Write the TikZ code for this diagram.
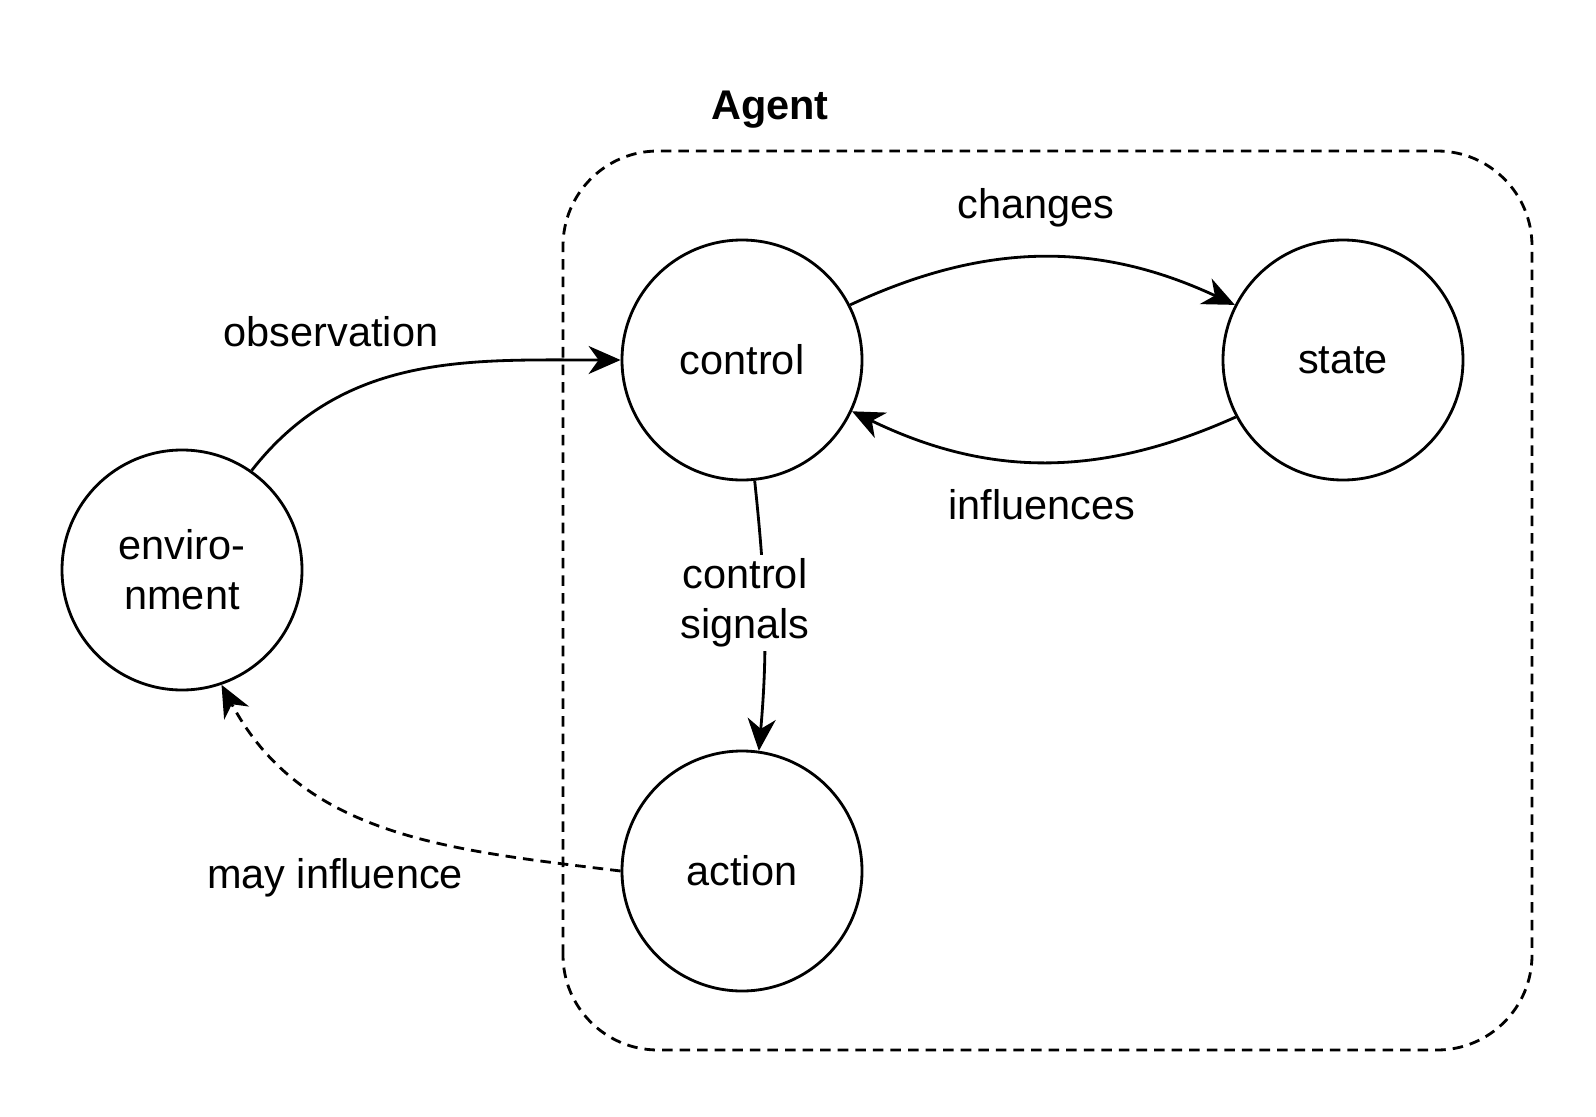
\documentclass[tikz,border=0pt]{standalone}
\usepackage{fontspec}
\setmainfont{Liberation Sans}
\usetikzlibrary{arrows.meta,positioning}

\begin{document}
\begin{tikzpicture}[x=1cm,y=1cm]
\tikzset{
  statenode/.style={circle,draw,line width=0.8pt,minimum size=2.4cm,inner sep=0pt,align=center,font=\fontsize{11.8}{14.2}\selectfont},
  edgelabel/.style={align=center,inner sep=1pt,font=\fontsize{11.8}{14.2}\selectfont},
  directed/.style={-{Stealth[length=3.2mm,width=2.8mm,inset=1mm]},line width=0.8pt},
  maybe/.style={directed,dash pattern=on 3pt off 2pt},
  agentbox/.style={draw,line width=0.8pt,dash pattern=on 3pt off 2pt,rounded corners=0.95cm}
}
\useasboundingbox (0,0) rectangle (15.96,11.16);
\draw[agentbox] (5.63,0.66) rectangle (15.32,9.65);
\node[font=\fontsize{11.8}{14.2}\selectfont\bfseries] (agent) at (7.70,10.06) {Agent};

\node[statenode] (n_control) at (7.42,7.56) {control};
\node[statenode] (n_state) at (13.43,7.56) {state};
\node[statenode] (n_env) at (1.82,5.46) {enviro-\\nment};
\node[statenode] (n_action) at (7.42,2.45) {action};

\draw[directed] (n_env.55) to[out=52,in=180] (n_control.west);
\draw[directed] (n_control.27) to[bend left=25] (n_state.153);
\draw[directed] (n_state.208) to[bend left=25] (n_control.335);
\draw[directed] (n_control.-84) to[out=-84,in=85] (n_action.82);
\draw[maybe] (n_action.west) to[out=173,in=-62] (n_env.-71);

\node[edgelabel] (l_obs) at (3.31,7.84) {observation};
\node[edgelabel] (l_chg) at (10.36,9.08) {changes};
\node[edgelabel] (l_inf) at (10.42,6.11) {influences};
\node[edgelabel,fill=white] (l_sig) at (7.45,5.13) {control\\signals};
\node[edgelabel] (l_may) at (3.35,2.38) {may influence};
\end{tikzpicture}
\end{document}
